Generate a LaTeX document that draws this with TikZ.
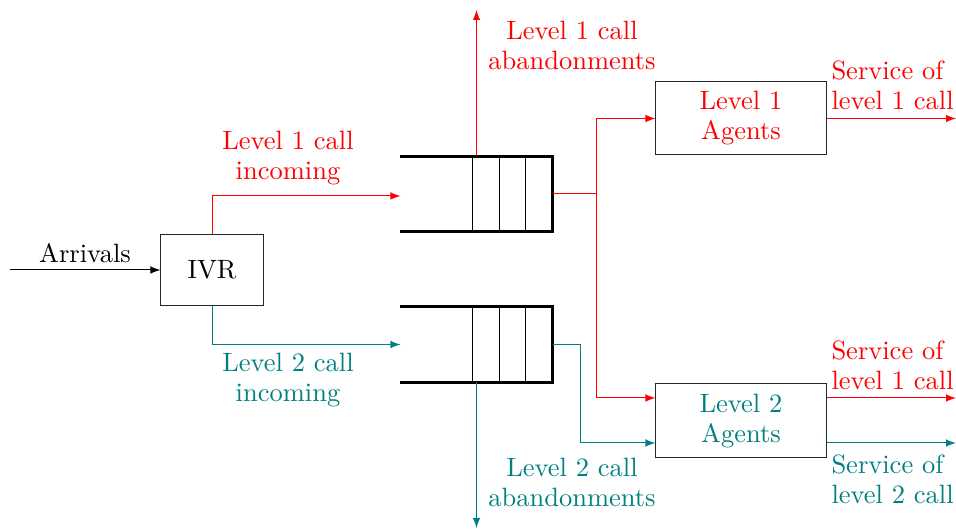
\documentclass[tikz,border=0pt]{standalone}
\usetikzlibrary{calc}
\definecolor{myteal}{RGB}{0,128,128}
\begin{document}
\begin{tikzpicture}[x=0.4pt,y=-0.4pt,>=latex,
  font=\fontsize{10.6}{12}\selectfont,
  box/.style={draw=black!85,line width=0.4pt,inner sep=0pt,align=center},
  lab/.style={align=center,inner sep=0pt},
  slab/.style={align=left,anchor=west,inner sep=0pt},
  qline/.style={line width=0.9pt},
  flow/.style={->,line width=0.4pt}]
\useasboundingbox (0,0) rectangle (956,531);
% nodes
\node[box,minimum width=40.8pt,minimum height=28.4pt] (ivr) at (212,270) {IVR};
\node[box,minimum width=68pt,minimum height=29.2pt,text=red] (ag1) at (741,118.5) {Level 1\\Agents};
\node[box,minimum width=68pt,minimum height=29.6pt,text=myteal] (ag2) at (741,421) {Level 2\\Agents};
\node[minimum width=60.4pt,minimum height=29.6pt,inner sep=0pt] (q1) at (476.5,194) {};
\node[minimum width=60.4pt,minimum height=30pt,inner sep=0pt] (q2) at (476.5,344.5) {};
% queues
\foreach \q in {q1,q2}{
  \draw[qline] (\q.north west) -- (\q.north east) -- (\q.south east) -- (\q.south west);
  \foreach \dx in {-4.5,22.5,48.5}
    \draw[line width=0.4pt] ($(\q.north)+(\dx,0)$) -- ($(\q.south)+(\dx,0)$);
}
% coordinates
\coordinate (arrS) at (10,270);
\coordinate (ab1) at (476.5,10);
\coordinate (ab2) at (476.5,528);
\coordinate (s1) at (596,194);
\coordinate (s2) at (580,344.5);
\coordinate (o1) at (956,118.5);
\coordinate (o2) at (956,398);
\coordinate (o3) at (956,443);
% connectors
\draw[flow] (arrS) -- (ivr.west);
\draw[flow,red] (ivr.north) |- ($(q1.west)+(0,2)$);
\draw[flow,myteal] (ivr.south) |- (q2.west);
\draw[flow,red] (q1.north) -- (ab1);
\draw[flow,myteal] (q2.south) -- (ab2);
\draw[red,line width=0.4pt] (q1.east) -- (s1);
\draw[flow,red] (s1) |- (ag1.west);
\draw[flow,red] (s1) |- ($(ag2.west)+(0,-23)$);
\draw[myteal,line width=0.4pt] (q2.east) -- (s2);
\draw[flow,myteal] (s2) |- ($(ag2.west)+(0,22)$);
\draw[flow,red] (ag1.east) -- (o1);
\draw[flow,red] (ag2.east |- o2) -- (o2);
\draw[flow,myteal] (ag2.east |- o3) -- (o3);
% labels
\node[lab] (lArr) at (85,253) {Arrivals};
\node[lab,text=red] (lIn1) at (288,158) {Level 1 call\\incoming};
\node[lab,text=myteal] (lIn2) at (288,380) {Level 2 call\\incoming};
\node[lab,text=red] (lAb1) at (572,45) {Level 1 call\\abandonments};
\node[lab,text=myteal] (lAb2) at (572,482) {Level 2 call\\abandonments};
\node[slab,text=red] (lS1) at (831,85) {Service of\\level 1 call};
\node[slab,text=red] (lS2) at (831,365) {Service of\\level 1 call};
\node[slab,text=myteal] (lS3) at (831,479) {Service of\\level 2 call};
\end{tikzpicture}
\end{document}
